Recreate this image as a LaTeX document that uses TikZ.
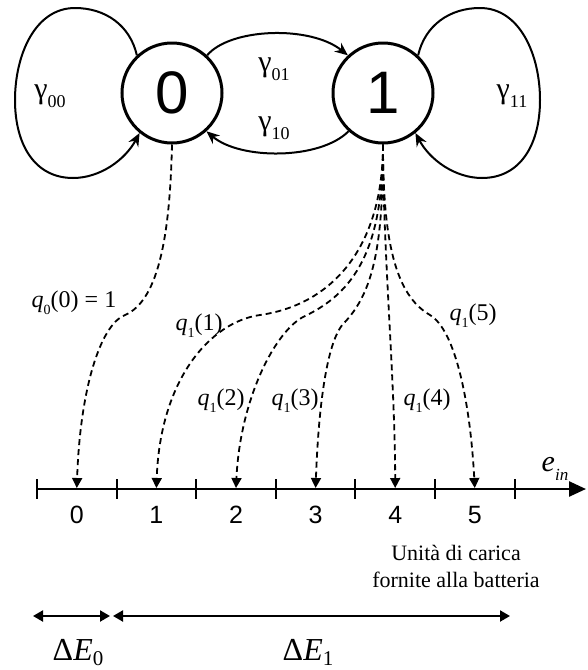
\documentclass[tikz,border=0pt]{standalone}
\usepackage{fontspec}
\setmainfont{Liberation Serif}
\newfontfamily\arialfont{Liberation Sans}
\usepackage{tikz}
\usetikzlibrary{positioning,arrows.meta}
\newcommand{\lsub}[2][14]{\raisebox{-0.3em}{\fontsize{#1}{#1}\selectfont #2}}

\begin{document}
\begin{tikzpicture}[
  x=1pt, y=-1pt,
  state/.style={draw, circle, line width=3pt, minimum size=100pt, inner sep=0pt, font=\arialfont\fontsize{60}{60}\selectfont},
  rate/.style={line width=2pt, -{Stealth[length=13pt,width=11pt]}},
  prob/.style={line width=1.8pt, dash pattern=on 6pt off 4pt, -{Triangle[length=10pt,width=10pt]}},
  axis/.style={line width=2.5pt, -{Triangle[length=17pt,width=15pt]}},
  span/.style={line width=2pt, {Triangle[length=10pt,width=11pt]}-{Triangle[length=10pt,width=11pt]}},
  gam/.style={font=\fontsize{30}{30}\selectfont, inner sep=0pt},
  qlab/.style={font=\fontsize{24}{24}\selectfont, inner sep=0pt},
  numlab/.style={font=\arialfont\fontsize{25}{25}\selectfont, inner sep=0pt},
  big/.style={font=\fontsize{32}{32}\selectfont, inner sep=0pt, anchor=base},
]
\useasboundingbox (0,0) rectangle (587,670);

% stati della catena
\node[state] (s0) at (172,93) {0};
\node[state] (s1) at (383,93) {1};

% transizioni
\draw[rate] (s0.133) .. controls (130,25) and (105,8) .. (75,8)
  .. controls (35,8) and (15,55) .. (15,100)
  .. controls (15,145) and (35,178) .. (73,178)
  .. controls (100,178) and (125,160) .. (s0.231);
\draw[rate] (s1.47) .. controls (425,25) and (450,8) .. (480,8)
  .. controls (520,8) and (540,55) .. (540,100)
  .. controls (540,145) and (520,178) .. (482,178)
  .. controls (455,178) and (430,160) .. (s1.309);
\draw[rate] (s0.47) .. controls (230,28) and (310,25) .. (s1.133);
\draw[rate] (s1.228) .. controls (320,160) and (240,160) .. (s0.312);

\node[gam] (g00) at (50,96) {γ\lsub[18]{00}};
\node[gam] (g11) at (512,96) {γ\lsub[18]{11}};
\node[gam] (g01) at (274,69) {γ\lsub[18]{01}};
\node[gam] (g10) at (274,128) {γ\lsub[18]{10}};

% asse delle unita' di carica
\coordinate (a0) at (37,489);
\coordinate (a1) at (586,489);
\draw[axis] (a0) -- (a1);
\foreach \i in {0,...,6}
  \draw[line width=2pt] ({37+79.6*\i},479) -- ({37+79.6*\i},499);
\foreach \i in {0,...,5} {
  \coordinate (e\i) at ({76.8+79.6*\i},488);
  \node[numlab] (n\i) at ({76.8+79.6*\i},515) {\i};
}
\node[font=\fontsize{30}{30}\selectfont, inner sep=0pt] (ein) at (555,469) {\textit{e}\lsub[17]{\textit{in}}};

% probabilita'
\draw[prob] (s0.south) .. controls (170,230) and (160,300) .. (125,315)
  .. controls (100,325) and (80,390) .. (e0);
\draw[prob] (s1.south) .. controls (383,250) and (330,305) .. (260,315)
  .. controls (210,322) and (160,380) .. (e1);
\draw[prob] (s1.south) .. controls (383,240) and (360,290) .. (305,316)
  .. controls (275,330) and (240,400) .. (e2);
\draw[prob] (s1.south) .. controls (383,240) and (375,290) .. (345,322)
  .. controls (325,340) and (318,420) .. (e3);
\draw[prob] (s1.south) .. controls (383,250) and (395,380) .. (e4);
\draw[prob] (s1.south) .. controls (383,240) and (395,295) .. (430,315)
  .. controls (455,330) and (470,400) .. (e5);

\node[qlab] (q0) at (74,303) {\textit{q}\lsub{0}(0) = 1};
\node[qlab] (q1) at (199,326) {\textit{q}\lsub{1}(1)};
\node[qlab] (q2) at (221,401) {\textit{q}\lsub{1}(2)};
\node[qlab] (q3) at (295,401) {\textit{q}\lsub{1}(3)};
\node[qlab] (q4) at (427,401) {\textit{q}\lsub{1}(4)};
\node[qlab] (q5) at (473,316) {\textit{q}\lsub{1}(5)};

\node[align=center, font=\fontsize{22}{27}\selectfont] (unit) at (456,566) {Unità di carica\\fornite alla batteria};

% intervalli di energia
\coordinate (d0) at (33,616);
\coordinate (d1) at (110,616);
\coordinate (d2) at (113,616);
\coordinate (d3) at (510,616);
\draw[span] (d0) -- (d1);
\draw[span] (d2) -- (d3);
\node[big] (de0) at (78,660) {Δ\textit{E}\raisebox{-5pt}{\fontsize{21}{21}\selectfont 0}};
\node[big] (de1) at (308,660) {Δ\textit{E}\raisebox{-5pt}{\fontsize{21}{21}\selectfont 1}};
\end{tikzpicture}
\end{document}
